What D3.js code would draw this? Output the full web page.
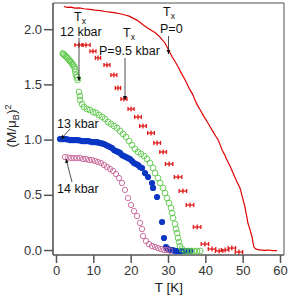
<!DOCTYPE html>
<html>
<head>
<meta charset="utf-8">
<script src="https://cdn.jsdelivr.net/npm/d3@7"></script>
<style>
  body { margin: 0; background: white; }
  svg text { font-family: "Liberation Sans", Arial, sans-serif; }
</style>
</head>
<body>
<svg id="chart" width="290" height="298"></svg>
<script>
// ticks
const xTicks = [0, 10, 20, 30, 40, 50, 60];
const yTicks = [0.0, 0.5, 1.0, 1.5, 2.0];

// P=0 line, [T, M^2]
const lineP0 = [[2.1,2.205],[3.0,2.198],[4.0,2.2],[5.1,2.19],[6.2,2.192],[7.5,2.185],[9.1,2.18],[10.5,2.172],[12.0,2.168],[13.1,2.16],
  [14.5,2.155],[16.0,2.148],[17.1,2.14],[18.5,2.128],[19.6,2.118],[20.6,2.1],[21.8,2.08],[23.3,2.04],[24.5,2.01],[25.5,1.99],
  [26.5,1.97],[27.8,1.93],[29.2,1.875],[30.2,1.81],[31.1,1.75],[32.0,1.70],[32.7,1.66],[33.6,1.60],[34.6,1.54],[35.3,1.49],
  [35.9,1.45],[36.6,1.41],[37.2,1.36],[37.9,1.31],[38.6,1.27],[39.6,1.21],[40.7,1.15],[41.4,1.11],[42.1,1.07],[42.8,1.03],
  [43.4,1.00],[44.0,0.95],[44.5,0.906],[45.2,0.86],[45.8,0.815],[46.6,0.76],[47.4,0.70],[48.3,0.63],[49.3,0.56],[50.0,0.47],
  [50.6,0.39],[51.0,0.32],[51.4,0.245],[52.0,0.18],[52.5,0.118],[52.8,0.06],[53.0,0.027],[53.5,0.01],[54.1,0.003],[55.0,0.0],
  [56.0,-0.003],[57.0,0.0],[58.0,-0.006],[59.2,-0.005]];

// P=9.5 kbar points with horizontal error
const p95T = [6.16,8.04,9.91,11.25,13.66,15.5,16.6,18.2,20.1,21.96,23.3,25.45,27.1,28.7,30.3,32.7,34.0,35.9,37.8,39.9,41.8,43.7,45.3,47.1,49.0];
const p95M = [1.857,1.857,1.80,1.74,1.676,1.585,1.467,1.368,1.277,1.205,1.123,1.06,0.97,0.888,0.779,0.661,0.534,0.408,0.208,0.054,0.009,-0.009,0.0,0.018,-0.018];
const p95Err = [1.1,1.1,0.8,0.7,0.8,0.8,0.7,0.8,0.8,0.9,0.9,0.9,0.9,0.9,1.0,1.0,1.0,1.0,1.0,1.0,1.0,1.0,1.0,1.0,1.0];

// 12 kbar (open green)
const k12 = [[1.79,1.78],[2.01,1.775],[2.22,1.766],[2.55,1.757],[2.81,1.748],[3.13,1.736],[3.48,1.721],[3.75,1.712],[4.02,1.703],
  [4.29,1.689],[4.55,1.676],[4.90,1.660],[5.09,1.640],[5.17,1.615],[5.36,1.585],[5.63,1.563],[5.81,1.540],
  [6.16,1.431],[6.43,1.395],[6.43,1.359],[6.97,1.322],[7.50,1.295],[8.30,1.277],[9.11,1.268],[9.91,1.250],[10.72,1.241],
  [11.52,1.223],[12.32,1.205],[13.13,1.187],[13.93,1.159],[14.73,1.141],[15.54,1.123],[16.34,1.105],[17.14,1.078],[17.95,1.051],
  [18.75,1.024],[19.56,0.987],[20.36,0.951],[21.16,0.915],[21.97,0.888],[22.77,0.870],[23.58,0.851],[24.38,0.824],[25.18,0.788],
  [25.99,0.743],[26.52,0.697],[27.33,0.652],[27.86,0.607],[28.67,0.562],[29.2,0.516],[29.74,0.471],[30.27,0.426],[30.81,0.380],
  [31.08,0.335],[31.35,0.290],[31.88,0.236],[32.15,0.190],[32.42,0.154],[32.68,0.109],[32.95,0.072],[33.22,0.036],[33.75,0.009],
  [34.56,-0.009],[35.36,-0.009],[36.17,-0.009],[36.97,-0.009],[37.78,-0.009],[38.6,-0.009]];

// 13 kbar (filled blue)
const k13 = [[1.07,1.005],[1.61,1.005],[2.14,1.005],[2.68,1.005],[3.21,1.001],[3.75,0.996],[4.29,0.996],[4.82,0.996],[5.36,0.996],
  [5.89,0.996],[6.43,0.992],[6.97,0.987],[7.50,0.987],[8.04,0.987],[8.57,0.987],[9.11,0.983],[9.64,0.978],[10.18,0.978],
  [10.72,0.978],[11.25,0.974],[11.79,0.969],[12.32,0.965],[12.86,0.960],[13.39,0.951],[13.93,0.942],[14.47,0.933],[15.0,0.924],
  [15.54,0.906],[16.07,0.897],[16.61,0.888],[17.14,0.879],[17.68,0.860],[18.22,0.851],[18.75,0.842],[19.29,0.833],[19.82,0.824],
  [20.36,0.806],[20.9,0.788],[21.43,0.779],[21.97,0.770],[22.5,0.752],[23.04,0.743],[23.84,0.697],[24.65,0.661],[25.72,0.607],
  [25.99,0.562],[27.06,0.480],[28.4,0.254],[28.93,0.109],[29.47,0.027],[30.0,0.009],[30.54,0.0],[31.08,0.0],[31.61,-0.005],
  [32.15,-0.009],[32.68,-0.009],[33.22,-0.009],[33.75,-0.009],[34.29,-0.009],[34.82,-0.009],[35.36,-0.009],[35.9,-0.009]];

// 14 kbar (open pink)
const k14 = [[2.41,0.842],[3.21,0.838],[4.02,0.833],[4.82,0.833],[5.63,0.833],[6.43,0.833],[7.23,0.824],[8.04,0.824],[8.84,0.815],
  [9.64,0.815],[10.45,0.806],[11.25,0.797],[12.06,0.788],[12.86,0.770],[13.66,0.752],[14.47,0.734],[15.27,0.716],[16.07,0.688],
  [16.88,0.652],[17.68,0.607],[18.48,0.544],[19.29,0.471],[20.09,0.408],[20.9,0.353],[21.7,0.308],[22.5,0.245],[23.04,0.190],
  [23.3,0.127],[24.11,0.082],[24.91,0.054],[25.72,0.036],[26.52,0.027],[27.33,0.018],[28.13,0.009],[28.93,0.0],[29.74,0.0],[30.54,-0.005]];

const svg = d3.select("#chart");
const x = d3.scaleLinear().domain([-0.8, 61.07]).range([53, 284]);
const y = d3.scaleLinear().domain([-0.045, 2.237]).range([255, 3]);

// arrowhead marker
svg.append("defs").append("marker").attr("id","arr").attr("viewBox","0 0 10 10").attr("refX",10).attr("refY",5)
  .attr("markerWidth",4).attr("markerHeight",5).attr("markerUnits","userSpaceOnUse").attr("orient","auto")
  .append("path").attr("d","M0,0 L10,5 L0,10 z").attr("fill","#111");

// frame: top/right lighter
svg.append("line").attr("x1",53).attr("x2",284).attr("y1",3).attr("y2",3).attr("stroke","#8a8a8a").attr("stroke-width",1.5);
svg.append("line").attr("x1",284).attr("x2",284).attr("y1",3).attr("y2",255).attr("stroke","#8a8a8a").attr("stroke-width",1.5);

// axes
const xAxis = svg.append("g").attr("transform","translate(0,255)")
  .call(d3.axisBottom(x).tickValues(xTicks).tickSize(8).tickPadding(3).tickFormat(d3.format("d")));
const yAxis = svg.append("g").attr("transform","translate(53,0)")
  .call(d3.axisLeft(y).tickValues(yTicks).tickSize(9).tickPadding(2).tickFormat(d3.format(".1f")));
[xAxis, yAxis].forEach(function(a){
  a.select(".domain").attr("stroke","#555").attr("stroke-width",1.6);
  a.selectAll(".tick line").attr("stroke","#555").attr("stroke-width",1.5);
  a.selectAll(".tick text").attr("fill","#333").style("font-size","13px").style("font-family","Liberation Sans, Arial, sans-serif");
});
xAxis.select(".domain").attr("d","M53,0H284");
yAxis.select(".domain").attr("d","M0,3V255");

// axis titles
svg.append("text").attr("x",169).attr("y",292).attr("text-anchor","middle").style("font-size","13.5px").attr("fill","#222").text("T [K]");
const yl = svg.append("text").attr("transform","translate(16,126) rotate(-90)").attr("text-anchor","middle")
  .style("font-size","13.5px").attr("fill","#222");
yl.append("tspan").text("(M/μ");
yl.append("tspan").attr("dy",3).style("font-size","9px").text("B");
yl.append("tspan").attr("dy",-3).text(")");
yl.append("tspan").attr("dy",-5).style("font-size","9px").text("2");

// data
const plot = svg.append("g");
plot.selectAll("circle.k13").data(k13).join("circle").attr("class","k13")
  .attr("cx",d => x(d[0])).attr("cy",d => y(d[1])).attr("r",3.1).attr("fill","#0a36c4");
plot.selectAll("circle.k14").data(k14).join("circle").attr("class","k14")
  .attr("cx",d => x(d[0])).attr("cy",d => y(d[1])).attr("r",2.7).attr("fill","none").attr("stroke","#c8679a").attr("stroke-width",0.9);
plot.selectAll("circle.k12").data(k12).join("circle").attr("class","k12")
  .attr("cx",d => x(d[0])).attr("cy",d => y(d[1])).attr("r",2.9).attr("fill","none").attr("stroke","#5cc84a").attr("stroke-width",0.9);

plot.append("path").datum(lineP0).attr("fill","none").attr("stroke","#e00000").attr("stroke-width",1.2)
  .attr("d", d3.line().x(d => x(d[0])).y(d => y(d[1])));

const errs = plot.selectAll("g.p95").data(p95T).join("g").attr("class","p95");
errs.each(function(t, i){
  const g = d3.select(this), cx = x(t), cy = y(p95M[i]);
  const x0 = x(t - p95Err[i]), x1 = x(t + p95Err[i]);
  g.append("line").attr("x1",x0).attr("x2",x1).attr("y1",cy).attr("y2",cy);
  g.append("line").attr("x1",x0).attr("x2",x0).attr("y1",cy-2).attr("y2",cy+2);
  g.append("line").attr("x1",x1).attr("x2",x1).attr("y1",cy-2).attr("y2",cy+2);
  g.append("line").attr("x1",cx).attr("x2",cx).attr("y1",cy-2.5).attr("y2",cy+2.5);
  g.selectAll("line").attr("stroke","#e01818").attr("stroke-width",1.3);
});

// annotations
function tx(xp, yp){
  const t = svg.append("text").attr("x",xp).attr("y",yp).style("font-size","12.5px").attr("fill","#111");
  t.append("tspan").text("T");
  t.append("tspan").attr("dy",3).style("font-size","8.5px").text("x");
}
function label(xp, yp, s){
  svg.append("text").attr("x",xp).attr("y",yp).style("font-size","12.5px").attr("fill","#111").text(s);
}
function arrow(x1, y1, x2, y2){
  svg.append("line").attr("x1",x1).attr("y1",y1).attr("x2",x2).attr("y2",y2)
    .attr("stroke","#222").attr("stroke-width",0.8).attr("marker-end","url(#arr)");
}
tx(74, 21); label(60, 36, "12 kbar"); arrow(79, 38, 79, 81);
tx(123, 37); label(99, 55, "P=9.5 kbar"); arrow(125, 58, 125, 100);
tx(163, 16); label(160, 33, "P=0"); arrow(168.5, 36, 168.5, 54);
label(57, 128, "13 kbar"); arrow(70, 129, 61, 139);
label(57, 193, "14 kbar"); arrow(72, 182, 66, 159);
</script>
</body>
</html>
